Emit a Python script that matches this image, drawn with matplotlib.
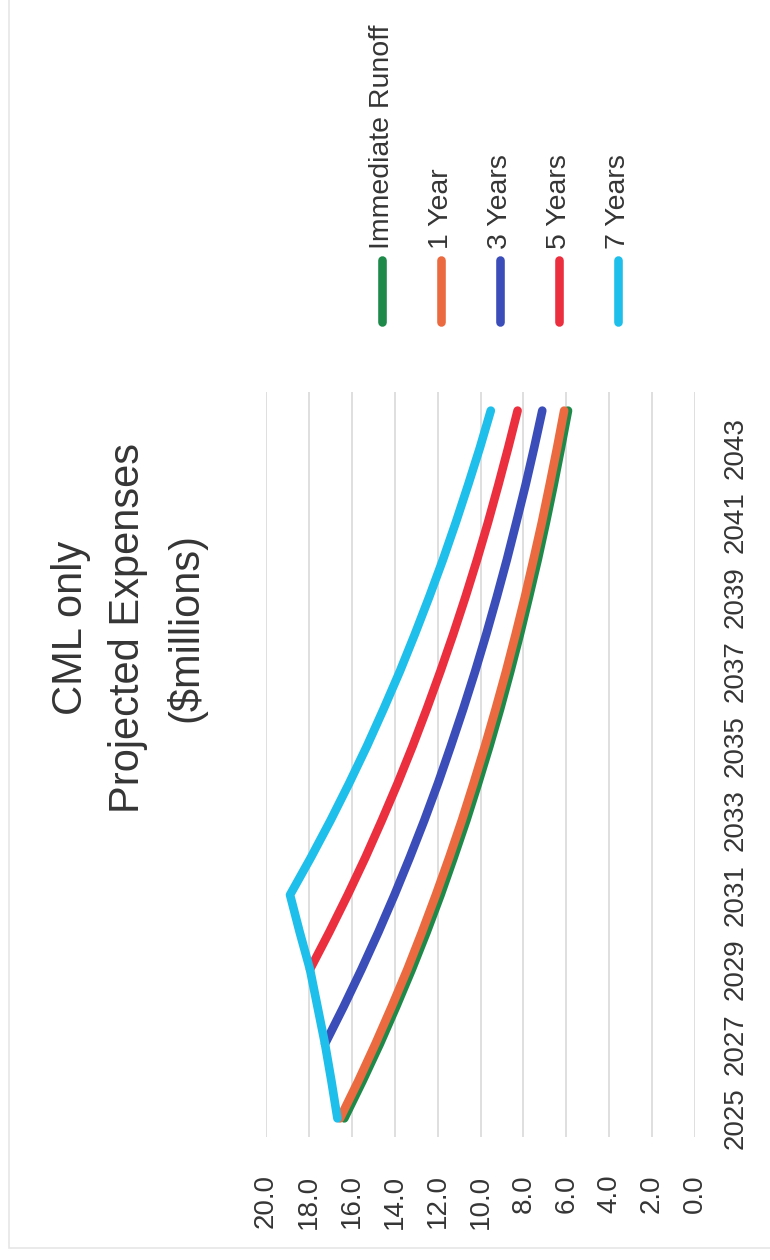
import numpy as np
import matplotlib
matplotlib.use('Agg')
import matplotlib.pyplot as plt
from matplotlib.patches import Rectangle

plt.rcParams['font.family'] = ['Liberation Sans', 'DejaVu Sans']

# projected expenses, $ millions, one value per year 2025-2044
years = list(range(2025, 2045))
year_labels = [str(y) for y in range(2025, 2044, 2)]
value_ticks = [0, 2, 4, 6, 8, 10, 12, 14, 16, 18, 20]

nan = np.nan
immediate = [16.35, 15.50, 14.69, 13.93, 13.20, 12.51, 11.86, 11.25, 10.66, 10.11,
             9.58, 9.08, 8.61, 8.16, 7.74, 7.33, 6.95, 6.59, 6.25, 5.92]
one_year = [16.55, 15.70, 14.90, 14.14, 13.41, 12.73, 12.08, 11.46, 10.87, 10.32,
            9.79, 9.29, 8.81, 8.36, 7.93, 7.53, 7.14, 6.78, 6.43, 6.10]
three_years = [nan, nan, 17.25, 16.38, 15.55, 14.76, 14.01, 13.30, 12.62, 11.98,
               11.38, 10.80, 10.25, 9.73, 9.24, 8.77, 8.33, 7.90, 7.50, 7.12]
five_years = [nan, nan, nan, nan, 17.95, 17.05, 16.19, 15.37, 14.60, 13.86,
              13.16, 12.50, 11.87, 11.27, 10.70, 10.16, 9.65, 9.17, 8.71, 8.27]
seven_years = [16.67, 16.95, 17.25, 17.60, 17.95, 18.43, 18.88, 17.91, 16.99, 16.12,
               15.29, 14.51, 13.76, 13.06, 12.39, 11.75, 11.15, 10.58, 10.03, 9.52]

series_names = ['Immediate Runoff', '1 Year', '3 Years', '5 Years', '7 Years']
series_values = [immediate, one_year, three_years, five_years, seven_years]
series_colors = ['#1e8a4a', '#ec6a40', '#3b4db8', '#ec2f3f', '#1ebfea']

text_color = '#353535'

fig = plt.figure(figsize=(7.7, 12.6), dpi=100)

# chart is laid out sideways: values run right-to-left, years bottom-to-top
ax = fig.add_axes([266/770, 1 - 1137/1260, (695 - 266)/770, (1137 - 392)/1260])
for vals, col in zip(series_values, series_colors):
    ax.plot(vals, years, color=col, lw=6.2, solid_capstyle='round',
            solid_joinstyle='round', zorder=3)

ax.set_xlim(20, 0)
ax.set_ylim(2024.5, 2044.5)
ax.set_xticks(value_ticks)
ax.set_xticklabels(['%.1f' % v for v in value_ticks], rotation=90)
ax.set_yticks(range(2025, 2044, 2))
ax.set_yticklabels(year_labels, rotation=90)
ax.yaxis.tick_right()
ax.tick_params(axis='x', length=0, pad=27, labelsize=20, labelcolor=text_color)
ax.tick_params(axis='y', length=0, pad=20, labelsize=20, labelcolor=text_color)
for lbl in ax.get_yticklabels():
    lbl.set_va('center')
ax.grid(axis='x', color='#dcdcdc', lw=1.3, zorder=0)
ax.grid(axis='y', visible=False)
for s in ax.spines.values():
    s.set_visible(False)

# overlay in pixel units for title, legend and chart border
lax = fig.add_axes([0, 0, 1, 1])
lax.set_xlim(0, 770)
lax.set_ylim(1260, 0)
lax.axis('off')

lax.add_patch(Rectangle((9, -10), 800, 1258, fill=False, ec='#e6e6e6', lw=1.2))

lax.text(129, 628, 'CML only\nProjected Expenses\n($millions)', rotation=90,
         ha='center', va='center', multialignment='center', fontsize=30,
         linespacing=1.55, color=text_color)

leg_x = [382, 441, 500, 559, 618]
for x, name, col in zip(leg_x, series_names, series_colors):
    lax.plot([x, x], [260, 322], color=col, lw=6.2, solid_capstyle='round')
    lax.text(x, 249, name, rotation=90, ha='center', va='bottom',
             fontsize=20.5, color=text_color)

fig.savefig('out.png', dpi=100)
